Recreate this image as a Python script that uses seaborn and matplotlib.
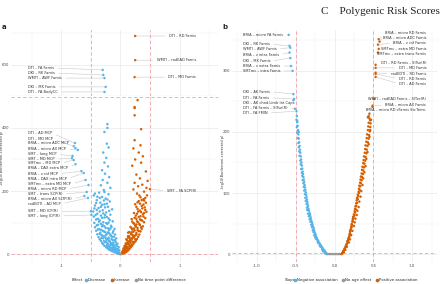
import matplotlib
matplotlib.use("Agg")
import matplotlib.pyplot as plt
from matplotlib.lines import Line2D
from matplotlib.ticker import FixedLocator
import seaborn as sns
import pandas as pd

# ---------------- data: panel a (time point effect) ----------------
a_decrease = [
    (-0.02, 1), (-0.04, 2), (-0.06, 3), (-0.03, 4), (-0.08, 5), (-0.10, 6), (-0.05, 7), (-0.12, 8),
    (-0.07, 9), (-0.15, 10), (-0.09, 11), (-0.13, 12), (-0.18, 13), (-0.06, 14), (-0.11, 15), (-0.20, 16),
    (-0.16, 17), (-0.08, 18), (-0.22, 19), (-0.14, 20), (-0.24, 22), (-0.10, 23), (-0.19, 24), (-0.27, 26),
    (-0.13, 27), (-0.23, 28), (-0.17, 29), (-0.29, 31), (-0.07, 30), (-0.21, 33), (-0.31, 35), (-0.12, 36),
    (-0.26, 38), (-0.18, 40), (-0.33, 42), (-0.09, 43), (-0.24, 45), (-0.35, 47), (-0.15, 48), (-0.29, 50),
    (-0.20, 52), (-0.37, 54), (-0.11, 55), (-0.27, 57), (-0.32, 60), (-0.17, 61), (-0.39, 63), (-0.23, 65),
    (-0.13, 67), (-0.34, 68), (-0.28, 72), (-0.41, 74), (-0.19, 76), (-0.36, 79), (-0.10, 80), (-0.25, 83),
    (-0.43, 85), (-0.31, 88), (-0.16, 90), (-0.38, 93), (-0.22, 96), (-0.44, 99), (-0.29, 101), (-0.13, 104),
    (-0.35, 107), (-0.41, 110), (-0.20, 113), (-0.27, 116), (-0.45, 119), (-0.33, 122), (-0.17, 125),
    (-0.39, 128), (-0.24, 132), (-0.46, 135), (-0.30, 139), (-0.14, 142), (-0.37, 146), (-0.21, 150),
    (-0.43, 154), (-0.27, 158), (-0.34, 163), (-0.18, 167), (-0.40, 171), (-0.25, 176), (-0.31, 181),
    (-0.45, 186), (-0.20, 190), (-0.36, 195), (-0.28, 203), (-0.17, 210), (-0.33, 218), (-0.22, 226),
    (-0.30, 235), (-0.19, 244), (-0.26, 255), (-0.31, 266), (-0.21, 278), (-0.27, 290), (-0.24, 305),
    (-0.29, 322), (-0.20, 338), (-0.23, 350), (-0.22, 412), (-0.22, 400), (-0.27, 387),
    (-0.03, 6), (-0.05, 10), (-0.02, 12), (-0.07, 15), (-0.04, 17), (-0.09, 20), (-0.03, 22), (-0.11, 25),
    (-0.06, 26), (-0.14, 30), (-0.05, 33), (-0.16, 35), (-0.08, 38), (-0.19, 42), (-0.10, 45), (-0.22, 47),
    (-0.07, 50), (-0.25, 52), (-0.14, 55), (-0.30, 58), (-0.09, 62), (-0.19, 66), (-0.26, 70), (-0.12, 73),
    (-0.33, 77), (-0.21, 82), (-0.15, 86), (-0.30, 92), (-0.24, 98), (-0.36, 103), (-0.18, 108),
    (-0.31, 115), (-0.26, 124), (-0.40, 140), (-0.33, 150), (-0.28, 170), (-0.39, 182), (-0.23, 160),
    (-0.04, 3), (-0.09, 8), (-0.06, 11), (-0.12, 18), (-0.17, 21), (-0.21, 25), (-0.11, 29), (-0.15, 34),
    (-0.23, 37), (-0.28, 41), (-0.13, 44), (-0.20, 49), (-0.32, 51), (-0.16, 58), (-0.24, 61), (-0.35, 64),
    (-0.21, 69), (-0.30, 74), (-0.38, 78), (-0.17, 81), (-0.27, 88), (-0.40, 91), (-0.33, 96), (-0.20, 100),
    (-0.38, 112), (-0.23, 118), (-0.42, 124), (-0.29, 129), (-0.35, 135), (-0.19, 137), (-0.44, 145),
    (-0.26, 148), (-0.31, 156), (-0.41, 162), (-0.22, 173), (-0.35, 178), (-0.43, 192), (-0.27, 197),
]
a_increase = [
    (0.02, 1), (0.04, 2), (0.03, 4), (0.06, 3), (0.05, 6), (0.08, 5), (0.07, 8), (0.10, 7), (0.04, 9),
    (0.12, 10), (0.09, 12), (0.06, 13), (0.14, 14), (0.11, 16), (0.05, 17), (0.16, 18), (0.08, 20),
    (0.13, 21), (0.18, 23), (0.10, 24), (0.07, 26), (0.20, 27), (0.15, 29), (0.12, 31), (0.22, 33),
    (0.09, 34), (0.17, 36), (0.24, 38), (0.14, 40), (0.26, 42), (0.11, 44), (0.19, 46), (0.28, 48),
    (0.16, 50), (0.23, 53), (0.30, 55), (0.13, 57), (0.21, 60), (0.32, 62), (0.18, 65), (0.27, 67),
    (0.15, 70), (0.34, 72), (0.24, 75), (0.20, 78), (0.36, 80), (0.29, 83), (0.17, 86), (0.38, 88),
    (0.25, 91), (0.32, 95), (0.22, 98), (0.40, 101), (0.28, 104), (0.35, 108), (0.19, 111), (0.42, 114),
    (0.31, 118), (0.26, 122), (0.38, 126), (0.23, 130), (0.44, 134), (0.33, 138), (0.29, 143), (0.41, 148),
    (0.36, 153), (0.25, 158), (0.43, 163), (0.31, 168), (0.39, 174), (0.34, 180), (0.45, 186), (0.28, 192),
    (0.03, 7), (0.05, 11), (0.08, 15), (0.06, 19), (0.11, 22), (0.09, 28), (0.14, 32), (0.12, 37),
    (0.17, 41), (0.10, 47), (0.20, 51), (0.15, 56), (0.25, 59), (0.18, 63), (0.13, 68), (0.22, 71),
    (0.29, 76), (0.19, 82), (0.26, 87), (0.33, 92), (0.23, 97), (0.30, 101), (0.37, 106), (0.27, 112),
    (0.34, 120), (0.40, 130), (0.30, 135), (0.37, 145), (0.33, 160), (0.40, 170),
    (0.04, 5), (0.07, 10), (0.10, 14), (0.13, 17), (0.08, 23), (0.16, 25), (0.19, 30), (0.12, 34),
    (0.21, 39), (0.16, 44), (0.25, 47), (0.13, 52), (0.22, 55), (0.27, 62), (0.19, 69), (0.31, 73),
    (0.23, 81), (0.35, 85), (0.27, 94), (0.20, 103), (0.33, 110), (0.24, 115), (0.39, 119), (0.28, 128),
    (0.35, 133), (0.42, 140), (0.27, 150), (0.39, 157), (0.29, 164), (0.36, 171), (0.42, 178), (0.32, 186),
    (0.40, 198), (0.22, 205), (0.44, 210), (0.30, 215), (0.37, 220), (0.24, 226), (0.46, 232), (0.33, 240),
    (0.27, 252), (0.43, 262), (0.20, 280), (0.35, 290), (0.25, 300), (0.38, 310), (0.31, 322), (0.22, 335),
    (0.34, 345), (0.24, 361), (0.35, 396), (0.24, 440), (0.24, 463), (0.24, 466), (0.29, 488),
]
a_nodiff = [(-0.01, 0.3), (0.0, 0.5), (0.01, 0.2), (0.005, 0.8), (-0.005, 0.6)]

# labelled tracts: (label, x, y, label_y)
a_low_left = [
    ("DTI – AD MCP", -0.77, 352, 383), ("DTI – MD MCP", -0.79, 342, 364),
    ("BRIA – micro ADC MCP", -0.76, 336, 352), ("BRIA – micro AX MCP", -0.72, 330, 333),
    ("SMT – long MCP", -0.81, 311, 317), ("SMT – MD MCP", -0.82, 304, 301),
    ("SMTmc – MD MCP", -0.79, 298, 288), ("BRIA – DAX extra MCP", -0.76, 285, 273),
    ("BRIA – v csf MCP", -0.66, 263, 254), ("BRIA – DAX intra MCP", -0.62, 257, 238),
    ("SMTmc – extra MD MCP", -0.59, 235, 222), ("BRIA – micro RD MCP", -0.54, 219, 206),
    ("SMT – trans SCP(R)", -0.57, 197, 190), ("BRIA – micro AX SLTP(R)", -0.61, 184, 174),
    ("radEDTI – AD MCP", -0.55, 178, 159), ("SMT – MD ICP(R)", -0.50, 136, 136),
    ("SMT – long ICP(R)", -0.49, 124, 121),
]
a_low_right = [("SMT – FA SCP(R)", 0.50, 206, 200)]
a_up_left = [
    ("DTI – FA Famis", -0.30, 583, 589), ("DKI – RK Famis", -0.29, 567, 573),
    ("WMTI – AWF Famis", -0.27, 557, 557), ("DKI – MK Famis", -0.25, 529, 529),
    ("DTI – FA BodyCC", -0.27, 513, 513),
]
a_up_right = [
    ("DTI – RD Famis", 0.25, 691, 691), ("WMTI – radEAD Famis", 0.25, 614, 614),
    ("DTI – MD Famis", 0.24, 560, 560),
]

# ---------------- data: panel b (age association) ----------------
b_negative = [
    (-0.10, 0), (-0.11, 2), (-0.12, 4), (-0.13, 6), (-0.14, 7), (-0.15, 9), (-0.16, 11), (-0.17, 13),
    (-0.18, 15), (-0.19, 17), (-0.20, 19), (-0.21, 22), (-0.22, 24), (-0.23, 27), (-0.24, 29),
    (-0.245, 32), (-0.25, 34), (-0.26, 37), (-0.265, 40), (-0.27, 43), (-0.28, 46), (-0.285, 49),
    (-0.29, 52), (-0.30, 55), (-0.305, 58), (-0.31, 61), (-0.315, 64), (-0.32, 67), (-0.33, 71),
    (-0.335, 74), (-0.34, 78), (-0.345, 81), (-0.35, 85), (-0.355, 89), (-0.36, 93), (-0.365, 97),
    (-0.37, 101), (-0.375, 105), (-0.38, 109), (-0.385, 113), (-0.39, 118), (-0.395, 122), (-0.40, 126),
    (-0.405, 131), (-0.41, 135), (-0.415, 140), (-0.42, 145), (-0.425, 150), (-0.43, 155), (-0.435, 160),
    (-0.44, 166), (-0.445, 171), (-0.45, 177), (-0.455, 183), (-0.46, 189), (-0.465, 196), (-0.47, 203),
    (-0.475, 210), (-0.48, 218), (-0.485, 226),
    (-0.12, 1), (-0.13, 3), (-0.15, 5), (-0.16, 8), (-0.18, 12), (-0.19, 14), (-0.21, 18), (-0.22, 21),
    (-0.24, 25), (-0.25, 28), (-0.26, 31), (-0.27, 36), (-0.28, 39), (-0.29, 44), (-0.30, 48), (-0.31, 53),
    (-0.32, 57), (-0.33, 62), (-0.34, 66), (-0.35, 72), (-0.355, 76), (-0.36, 82), (-0.37, 87),
    (-0.375, 92), (-0.38, 98), (-0.39, 104), (-0.395, 110), (-0.40, 116), (-0.41, 121), (-0.415, 128),
    (-0.42, 133), (-0.43, 139), (-0.435, 147), (-0.44, 153), (-0.45, 161), (-0.455, 168), (-0.46, 175),
    (-0.465, 182), (-0.47, 190), (-0.48, 199), (-0.485, 208), (-0.49, 220), (-0.48, 216), (-0.46, 200),
]
b_positive = [
    (0.09, 0), (0.10, 2), (0.11, 4), (0.12, 6), (0.13, 9), (0.14, 11), (0.15, 14), (0.16, 17), (0.17, 20),
    (0.175, 23), (0.18, 26), (0.19, 30), (0.195, 33), (0.20, 37), (0.21, 41), (0.215, 45), (0.22, 49),
    (0.23, 53), (0.235, 57), (0.24, 61), (0.25, 65), (0.26, 70), (0.265, 74), (0.27, 78), (0.28, 83),
    (0.285, 88), (0.29, 92), (0.30, 97), (0.31, 102), (0.315, 107), (0.32, 112), (0.33, 117), (0.335, 122),
    (0.34, 127), (0.35, 132), (0.355, 138), (0.36, 143), (0.37, 149), (0.375, 154), (0.38, 160),
    (0.39, 166), (0.395, 172), (0.40, 178), (0.41, 184), (0.415, 190), (0.42, 196), (0.43, 203),
    (0.435, 209), (0.44, 215), (0.45, 222),
    (0.10, 1), (0.115, 5), (0.13, 8), (0.145, 13), (0.155, 16), (0.165, 21), (0.18, 25), (0.19, 28),
    (0.20, 34), (0.205, 39), (0.22, 44), (0.225, 48), (0.235, 54), (0.245, 59), (0.255, 63), (0.265, 68),
    (0.275, 73), (0.28, 79), (0.29, 84), (0.30, 90), (0.305, 95), (0.315, 100), (0.325, 105), (0.33, 111),
    (0.34, 116), (0.35, 121), (0.355, 126), (0.365, 131), (0.37, 137), (0.38, 142), (0.385, 148),
    (0.395, 153), (0.40, 159), (0.41, 165), (0.415, 171), (0.425, 177), (0.43, 183), (0.44, 189),
    (0.445, 195), (0.455, 201), (0.46, 208), (0.465, 214), (0.47, 220),
    (0.12, 3), (0.14, 7), (0.16, 12), (0.185, 19), (0.20, 24), (0.215, 31), (0.23, 38), (0.25, 46),
    (0.26, 52), (0.27, 58), (0.285, 64), (0.295, 71), (0.31, 77), (0.32, 86), (0.335, 94), (0.345, 103),
    (0.36, 113), (0.37, 124), (0.385, 134), (0.40, 144), (0.41, 156), (0.425, 167), (0.44, 180),
    (0.45, 192), (0.46, 203), (0.44, 226), (0.45, 230), (0.43, 224), (0.46, 219),
]
b_noeffect = [(-0.09, 0), (-0.07, 0), (-0.05, 0), (-0.03, 0), (-0.01, 0), (0.01, 0), (0.03, 0),
              (0.05, 0), (0.07, 0)]

b_left = [
    ("BRIA – micro FA Famis", -0.59, 359, 359), ("DKI – RK Famis", -0.58, 341, 344),
    ("WMTI – AWF Famis", -0.57, 338, 336), ("BRIA – v intra Famis", -0.58, 330, 326),
    ("DKI – MK Famis", -0.57, 321, 316), ("BRIA – v extra Famis", -0.56, 308, 308),
    ("SMTmc – intra Famis", -0.54, 300, 300), ("DKI – AK Famis", -0.53, 262, 266),
    ("DTI – FA Famis", -0.52, 254, 256), ("DKI – AK chnd.Limb Int.Caps", -0.53, 252, 248),
    ("DTI – FA Famis – SITse(R)", -0.51, 238, 239), ("DTI – FA FMIN", -0.49, 234, 231),
]
b_right = [
    ("BRIA – micro RD Famis", 0.57, 352, 362), ("BRIA – micro ADC Famis", 0.58, 348, 354),
    ("BRIA – v csf Famis", 0.56, 343, 346), ("SMTmc – extra MD Famis", 0.57, 336, 336),
    ("SMTmc – extra trans Famis", 0.56, 330, 328), ("DTI – RD Famis – SITse(R)", 0.53, 310, 313),
    ("DTI – MD Famis", 0.53, 305, 305), ("radEDTI – RD Famis", 0.53, 297, 295),
    ("DTI – RD Famis", 0.53, 295, 287), ("DTI – AD Famis", 0.53, 290, 279),
    ("WMTI – radEAD Famis – SITse(R)", 0.51, 254, 254), ("BRIA – micro AX Famis", 0.49, 243, 244),
    ("BRIA – micro RD cFamis Str.Term.", 0.49, 241, 236),
]

BLUE, ORANGE, GREY = "#56B4E9", "#D55E00", "#999999"
RED = "#f2a0a8"

sns.set_theme(style="white")
plt.rcParams["font.family"] = ["DejaVu Sans"]


def frame(points, group):
    df = pd.DataFrame(points, columns=["x", "y"])
    df["group"] = group
    return df


df_a = pd.concat([frame(a_decrease, "Decrease"), frame(a_increase, "Increase"),
                  frame(a_nodiff, "No time point difference"),
                  frame([(t[1], t[2]) for t in a_low_left], "Decrease"),
                  frame([(t[1], t[2]) for t in a_low_right], "Increase")])
df_a_up = pd.concat([frame([(t[1], t[2]) for t in a_up_left], "Decrease"),
                     frame([(t[1], t[2]) for t in a_up_right], "Increase")])
df_b = pd.concat([frame(b_negative, "Negative association"), frame(b_noeffect, "No age effect"),
                  frame(b_positive, "Positive association"),
                  frame([(t[1], t[2]) for t in b_left], "Negative association"),
                  frame([(t[1], t[2]) for t in b_right], "Positive association")])

pal_a = {"Decrease": BLUE, "Increase": ORANGE, "No time point difference": GREY}
pal_b = {"Negative association": BLUE, "No age effect": GREY, "Positive association": ORANGE}

fig = plt.figure(figsize=(4.4, 2.84), dpi=100)
W, H = 440, 284


def px_axes(x0, y0, x1, y1):
    return fig.add_axes([x0 / W, 1 - y1 / H, (x1 - x0) / W, (y1 - y0) / H])


ax_up = px_axes(11, 30, 218, 96)
ax_lo = px_axes(11, 97, 218, 262)
ax_b = px_axes(232, 30, 437, 262)


def style(ax, xmaj, xmin, ymaj, ymin):
    ax.xaxis.set_major_locator(FixedLocator(xmaj))
    ax.xaxis.set_minor_locator(FixedLocator(xmin))
    ax.yaxis.set_major_locator(FixedLocator(ymaj))
    ax.yaxis.set_minor_locator(FixedLocator(ymin))
    ax.grid(which="major", color="#e6e6e6", lw=0.45)
    ax.grid(which="minor", color="#f2f2f2", lw=0.35)
    ax.set_axisbelow(True)
    ax.tick_params(which="both", length=0, labelsize=2.8, pad=1.2, colors="#4d4d4d")
    sns.despine(ax=ax, left=True, bottom=True)


def dots(df, pal, ax):
    sns.scatterplot(data=df, x="x", y="y", hue="group", palette=pal, s=3.2, linewidth=0,
                    legend=False, ax=ax, zorder=3)
    ax.set_xlabel("")
    ax.set_ylabel("")


def labels(ax, items, tx, ha):
    rel = (1, 0.5) if ha == "left" else (0, 0.5)
    for lab, x, y, ly in items:
        ax.annotate(lab, xy=(x, y), xytext=(tx, ly), ha=ha, va="center", fontsize=2.6,
                    color="#333333", zorder=4,
                    arrowprops=dict(arrowstyle="-", color="#c8c8c8", lw=0.4,
                                    shrinkA=0.5, shrinkB=0.5, relpos=rel))


dash = dict(color=RED, lw=0.6, ls=(0, (4, 3)), zorder=1)

# panel a
xa_maj, xa_min = [-1, 0, 1], [-1.5, -0.5, 0.5, 1.5]
for ax in (ax_up, ax_lo):
    ax.set_xlim(-1.85, 1.65)
    ax.axvline(-0.5, **dash)
    ax.axvline(0.5, **dash)
style(ax_up, xa_maj, xa_min, [600], [500, 700])
style(ax_lo, xa_maj, xa_min, [0, 200, 400], [100, 300])
ax_up.set_ylim(500, 710)
ax_lo.set_ylim(-25, 498)
ax_up.set_xticklabels([])
ax_lo.set_xticklabels(["-1", "0", "1"])
dots(df_a_up, pal_a, ax_up)
dots(df_a, pal_a, ax_lo)
ax_lo.axhline(1.3, **dash)
ax_lo.plot([0, 1], [1.0, 1.0], transform=ax_lo.transAxes, clip_on=False, **dash)
labels(ax_up, a_up_left, -1.56, "left")
labels(ax_up, a_up_right, 1.28, "right")
labels(ax_lo, a_low_left, -1.56, "left")
labels(ax_lo, a_low_right, 1.28, "right")

# panel b
ax_b.set_xlim(-1.32, 1.32)
ax_b.set_ylim(-13, 367)
style(ax_b, [-1, -0.5, 0, 0.5, 1], [-1.25, -0.75, -0.25, 0.25, 0.75, 1.25],
      [0, 100, 200, 300], [50, 150, 250, 350])
ax_b.set_xticklabels(["-1.0", "-0.5", "0.0", "0.5", "1.0"])
ax_b.axvline(-0.5, **dash)
ax_b.axvline(0.5, **dash)
ax_b.axhline(1.3, **dash)
dots(df_b, pal_b, ax_b)
labels(ax_b, b_left, -1.18, "left")
labels(ax_b, b_right, 1.18, "right")

# texts
ylab = "-log10(Bonferroni-corrected p)"
fig.text(2.2 / W, 1 - 158 / H, ylab, rotation=90, fontsize=2.5, color="#333333", ha="center", va="center")
fig.text(223 / W, 1 - 162 / H, ylab, rotation=90, fontsize=2.5, color="#333333", ha="center", va="center")
fig.text(2 / W, 1 - 27 / H, "a", fontsize=5, fontweight="bold", va="center")
fig.text(222 / W, 1 - 27 / H, "b", fontsize=5, fontweight="bold", va="center")
fig.text(0.999, 1 - 12 / H, "C    Polygenic Risk Scores", fontsize=8, ha="right", va="center",
         family=["Liberation Serif", "DejaVu Serif"], color="#222222")


def legend(title, pal, title_x, left_x):
    handles = [Line2D([], [], marker="o", ls="none", color=c, markersize=1.6) for c in pal.values()]
    fig.text(title_x / W, 4 / H, title, fontsize=2.8, color="#333333", va="center")
    fig.legend(handles, list(pal.keys()), loc="center left", bbox_to_anchor=(left_x / W, 4 / H),
               ncol=3, frameon=False, fontsize=2.8, handletextpad=0.05, columnspacing=0.9,
               handlelength=1, borderpad=0, borderaxespad=0)


legend("Effect", pal_a, 72, 84)
legend("Slope", pal_b, 285, 293)

fig.savefig("out.png", dpi=100)
